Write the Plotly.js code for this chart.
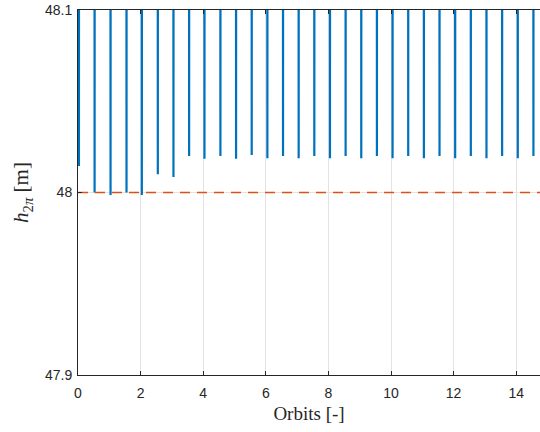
<!DOCTYPE html>
<html>
<head>
<meta charset="utf-8">
<script src="https://cdn.plot.ly/plotly-3.0.1.min.js"></script>
<style>
  html, body { margin: 0; padding: 0; background: #ffffff; }
  #chart { width: 540px; height: 432px; }
</style>
</head>
<body>
<div id="chart"></div>
<script>
// Orbit count at which each dip in h_2pi occurs
var dipOrbits = [0.03, 0.53, 1.04, 1.55, 2.04, 2.55, 3.05, 3.55, 4.04, 4.55,
                 5.05, 5.55, 6.05, 6.55, 7.05, 7.55, 8.05, 8.55, 9.05, 9.55,
                 10.05, 10.55, 11.05, 11.55, 12.05, 12.55, 13.05, 13.55, 14.05, 14.55];
// Minimum height reached at each dip [m]
var dipMinima = [48.0145, 48.0000, 47.9986, 48.0000, 47.9986, 48.0100, 48.0085, 48.0200, 48.0185, 48.0200,
                 48.0185, 48.0205, 48.0187, 48.0200, 48.0187, 48.0200, 48.0187, 48.0200, 48.0187, 48.0200,
                 48.0187, 48.0200, 48.0187, 48.0200, 48.0187, 48.0200, 48.0187, 48.0200, 48.0187, 48.0200];
// Height between dips (above the displayed window) [m]
var plateauHeight = 48.25;
// Half width of a dip in orbits
var dipHalfWidth = 0.004;
// Reference height [m]
var referenceHeight = 48;

var xTicks = [0, 2, 4, 6, 8, 10, 12, 14];
var yTicks = [47.9, 48, 48.1];
var yTickText = ['47.9', '48', '48.1'];

// Build the height trace from the dip list
var hx = [], hy = [];
hx.push(0); hy.push(plateauHeight);
for (var i = 0; i < dipOrbits.length; i++) {
  hx.push(dipOrbits[i] - dipHalfWidth, dipOrbits[i], dipOrbits[i] + dipHalfWidth);
  hy.push(plateauHeight, dipMinima[i], plateauHeight);
}
hx.push(14.76); hy.push(plateauHeight);

var xRange = [0, 14.76];

var traces = [
  {
    x: hx, y: hy, type: 'scatter', mode: 'lines',
    line: { color: '#0072BD', width: 2.2 },
    hoverinfo: 'skip', showlegend: false
  },
  {
    x: xRange, y: [referenceHeight, referenceHeight], type: 'scatter', mode: 'lines',
    line: { color: '#D95319', width: 1.6, dash: '10px,7px' },
    hoverinfo: 'skip', showlegend: false
  }
];

var tickFont = { family: 'Liberation Sans, Arial, sans-serif', size: 14, color: '#262626' };
var titleFont = { family: 'Liberation Serif, Times New Roman, serif', size: 19, color: '#262626' };
var yTitleFont = { family: 'Liberation Serif, Times New Roman, serif', size: 21, color: '#262626' };

var layout = {
  width: 540, height: 432,
  margin: { l: 78, r: 0, t: 10, b: 57 },
  paper_bgcolor: '#ffffff', plot_bgcolor: '#ffffff',
  xaxis: {
    range: xRange, tickvals: xTicks, ticktext: xTicks.map(String),
    ticks: 'inside', ticklen: 4, tickwidth: 1, tickcolor: '#262626',
    showline: true, linecolor: '#262626', linewidth: 1, mirror: 'ticks',
    showgrid: true, gridcolor: '#e3e3e3', gridwidth: 1,
    zeroline: false, tickfont: tickFont, ticklabelstandoff: 5,
    title: { text: 'Orbits [-]', font: titleFont, standoff: 6 }
  },
  yaxis: {
    range: [47.9, 48.1], tickvals: yTicks, ticktext: yTickText,
    ticks: 'inside', ticklen: 4, tickwidth: 1, tickcolor: '#262626',
    showline: true, linecolor: '#262626', linewidth: 1, mirror: false,
    showgrid: true, gridcolor: '#e3e3e3', gridwidth: 1,
    zeroline: false, tickfont: tickFont, ticklabelstandoff: 2,
    title: { text: '<i>h</i><sub>2<i>π</i></sub> [m]', font: yTitleFont, standoff: 10 }
  }
};

Plotly.newPlot('chart', traces, layout, { staticPlot: true, displayModeBar: false });
</script>
</body>
</html>
